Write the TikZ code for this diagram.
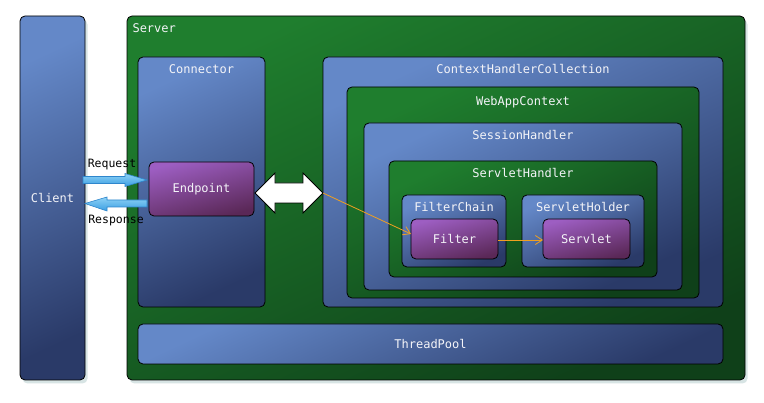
\documentclass[tikz,border=0pt]{standalone}
\usepackage{fontspec}
\setmonofont{DejaVu Sans Mono}
\usetikzlibrary{calc,shadows,arrows.meta}
\definecolor{bluetop}{HTML}{6488C8}
\definecolor{bluebot}{HTML}{2A3A68}
\definecolor{greentop}{HTML}{1F7E2E}
\definecolor{greenbot}{HTML}{0F4019}
\definecolor{purptop}{HTML}{9D5EC2}
\definecolor{purpbot}{HTML}{5A2857}
\definecolor{orng}{HTML}{F0A020}
\definecolor{reqtop}{HTML}{8ED2F6}
\definecolor{reqbot}{HTML}{3A9EE2}
\definecolor{reqdraw}{HTML}{2E86CC}
\definecolor{shadowc}{HTML}{A8C4C4}
\definecolor{txtc}{HTML}{F4F4F8}
\begin{document}
\begin{tikzpicture}[x=1pt,y=-1pt,
  box/.style={draw=black, line width=0.8pt, rounded corners=5pt, anchor=north west,
    inner sep=0pt, outer sep=0pt, text=txtc, font=\fontsize{12}{14}\selectfont\ttfamily},
  bluebox/.style={box, top color=bluetop, bottom color=bluebot, shading angle=25},
  greenbox/.style={box, top color=greentop, bottom color=greenbot, shading angle=25},
  purpbox/.style={box, top color=purptop, bottom color=purpbot, shading angle=15},
  lbl/.style={text=txtc, font=\fontsize{12}{14}\selectfont\ttfamily, text height=1.5ex, text depth=0.25ex, anchor=center},
  blbl/.style={text=black, font=\fontsize{11.5}{14}\selectfont\ttfamily},
  shad/.style={drop shadow={opacity=0.45, fill=shadowc, shadow xshift=2.5pt, shadow yshift=-3.5pt}},
  io/.style={draw=reqdraw, line width=0.6pt, top color=reqtop, bottom color=reqbot},
  flow/.style={draw=orng, line width=0.8pt, -{Straight Barb[length=7pt,width=9pt]}}
]
\useasboundingbox (0,0) rectangle (764,403);
\fill[white] (0,0) rectangle (764,403);

\node[bluebox, shad, minimum width=65pt, minimum height=364pt] (client) at (20,16) {Client};
\node[greenbox, shad, minimum width=618pt, minimum height=364pt,
  label={[lbl, anchor=west, xshift=2pt, yshift=-14pt]north west:Server}] (server) at (127,16) {};

\node[bluebox, minimum width=127pt, minimum height=250pt,
  label={[lbl, yshift=-14pt]north:Connector}] (conn) at (138,57) {};
\node[bluebox, minimum width=400pt, minimum height=250pt,
  label={[lbl, yshift=-14pt]north:ContextHandlerCollection}] (chc) at (323,57) {};
\node[greenbox, minimum width=352pt, minimum height=211pt,
  label={[lbl, yshift=-15.5pt]north:WebAppContext}] (webapp) at (347,87) {};
\node[bluebox, minimum width=318pt, minimum height=167pt,
  label={[lbl, yshift=-14pt]north:SessionHandler}] (session) at (364,123) {};
\node[greenbox, minimum width=268pt, minimum height=116pt,
  label={[lbl, yshift=-14pt]north:ServletHandler}] (servh) at (389,161) {};
\node[bluebox, minimum width=104pt, minimum height=72pt,
  label={[lbl, yshift=-14pt]north:FilterChain}] (fchain) at (402,195) {};
\node[bluebox, minimum width=122pt, minimum height=72pt,
  label={[lbl, yshift=-14pt]north:ServletHolder}] (sholder) at (522,195) {};
\node[purpbox, minimum width=87pt, minimum height=40pt] (filter) at (411,219) {Filter};
\node[purpbox, minimum width=87pt, minimum height=40pt] (servlet) at (543,219) {Servlet};
\node[purpbox, minimum width=105pt, minimum height=54pt] (endpoint) at (149,162) {Endpoint};
\node[bluebox, minimum width=585pt, minimum height=40pt] (tpool) at (138,324) {ThreadPool};

% double arrow between Endpoint and ContextHandlerCollection
\coordinate (dal) at ($(endpoint.east |- 0,193)+(1,0)$);
\coordinate (dar) at (chc.west |- 0,193);
\draw[draw=black, line width=0.8pt, fill=white, line join=miter]
  (dal) -- ++(20,-20) -- ++(0,10) -- ($(dar)+(-20,-10)$) -- ++(0,-10) -- (dar)
  -- ++(-20,20) -- ++(0,-10) -- ($(dal)+(20,10)$) -- ++(0,10) -- cycle;

% Request / Response arrows
\coordinate (rqs) at ($(client.east |- 0,180)+(-2,0)$);
\coordinate (rqe) at ($(endpoint.west |- 0,180)+(-2,0)$);
\draw[io] ($(rqs)+(0,-3.5)$) -- ($(rqe)+(-22,-3.5)$) -- ++(0,-3) -- (rqe)
  -- ($(rqe)+(-22,6.5)$) -- ++(0,-3) -- ($(rqs)+(0,3.5)$) -- cycle;
\coordinate (rss) at ($(endpoint.west |- 0,203.5)+(-2,0)$);
\coordinate (rse) at (client.east |- 0,203.5);
\draw[io] ($(rss)+(0,-3.5)$) -- ($(rse)+(22,-3.5)$) -- ++(0,-3) -- (rse)
  -- ($(rse)+(22,7.5)$) -- ++(0,-4) -- ($(rss)+(0,3.5)$) -- cycle;
\node[blbl] (reqlbl) at (112,165) {Request};
\node[blbl] (reslbl) at (116,221) {Response};

% orange flows
\draw[flow] (dar) -- ($(filter.west)+(0,-5)$);
\draw[flow] (filter.east |- 0,240) -- (servlet.west |- 0,240);
\end{tikzpicture}
\end{document}
